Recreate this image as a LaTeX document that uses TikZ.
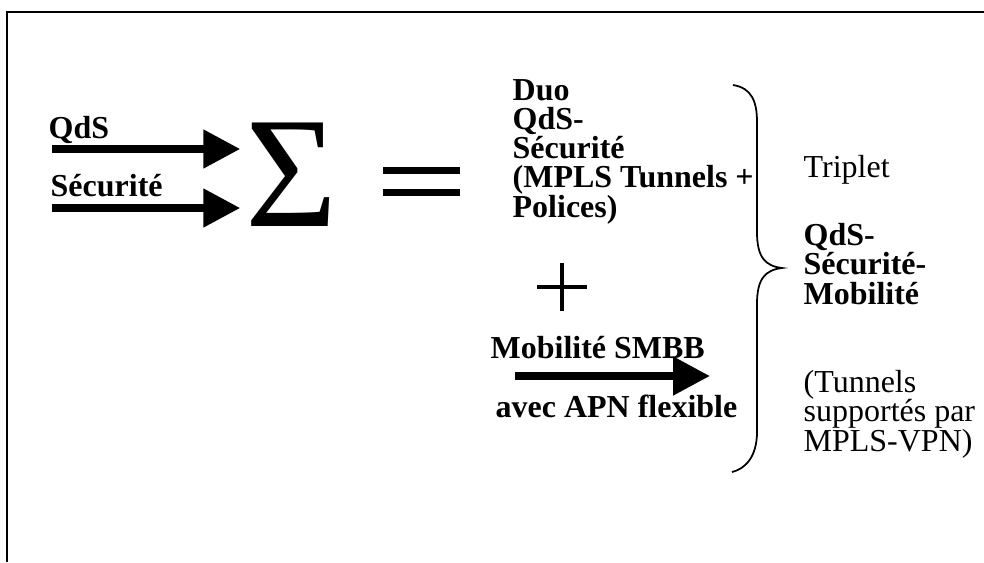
\documentclass[tikz,border=0pt]{standalone}
\usepackage{fontspec}
\setmainfont{Liberation Serif}
\usetikzlibrary{arrows.meta}

\begin{document}
\begin{tikzpicture}[
  txt/.style={anchor=base west, inner sep=0pt, font=\fontsize{9.1}{8.3}\selectfont, align=left},
  boldtxt/.style={txt, font=\fontsize{9.1}{8.3}\selectfont\bfseries},
  fatarrow/.style={black, line width=0.08cm, -{Triangle[length=3.7mm, width=3.7mm]}}
]
\useasboundingbox (0,0) rectangle (9.84,5.62);

% frame
\draw[black, line width=0.8pt] (9.84,5.50) -- (0.07,5.50) -- (0.07,0);

% inputs
\node[boldtxt] (qds) at (0.48,4.24) {QdS};
\node[boldtxt] (secu) at (0.50,3.66) {Sécurité};

\node[inner sep=0pt, font=\fontsize{45}{45}\selectfont] (sigma) at (2.92,3.87) {Σ};

\coordinate (qds in) at (0.52,4.13);
\coordinate (secu in) at (0.52,3.54);
\draw[fatarrow] (qds in) -- ([xshift=-0.05cm]qds in -| sigma.west);
\draw[fatarrow] (secu in) -- ([xshift=-0.05cm]secu in -| sigma.west);

% equal sign
\draw[black, line width=0.07cm] (3.83,3.92) -- (4.60,3.92);
\draw[black, line width=0.07cm] (3.83,3.70) -- (4.60,3.70);

% duo (base = last line)
\node[boldtxt] (duo) at (5.12,3.45) {Duo\\QdS-\\Sécurité\\(MPLS Tunnels +\\Polices)};

% plus
\draw[black, line width=0.045cm] (5.37,2.75) -- (5.87,2.75);
\draw[black, line width=0.045cm] (5.62,2.99) -- (5.62,2.51);

% mobility
\node[boldtxt] (mobi) at (4.90,2.04) {Mobilité SMBB};
\coordinate (mobi in) at (5.15,1.86);
\coordinate (mobi out) at (7.10,1.86);
\draw[fatarrow] (mobi in) -- (mobi out);
\node[boldtxt] (apn) at (4.95,1.45) {avec APN flexible};

% brace
\draw[black, line width=0.5pt] (7.33,4.77) .. controls (7.52,4.74) and (7.57,4.60) .. (7.57,4.40)
  -- (7.57,3.30) .. controls (7.57,3.05) and (7.65,2.96) .. (7.82,2.94)
  .. controls (7.65,2.92) and (7.57,2.83) .. (7.57,2.58)
  -- (7.57,1.30) .. controls (7.57,1.05) and (7.45,0.93) .. (7.32,0.90);

% result
\node[txt] (triplet) at (8.03,3.85) {Triplet};
\node[boldtxt] (trio) at (8.03,2.58) {QdS-\\Sécurité-\\Mobilité};
\node[txt] (tunnels) at (8.03,1.11) {(Tunnels\\supportés par\\MPLS-VPN)};
\end{tikzpicture}
\end{document}
